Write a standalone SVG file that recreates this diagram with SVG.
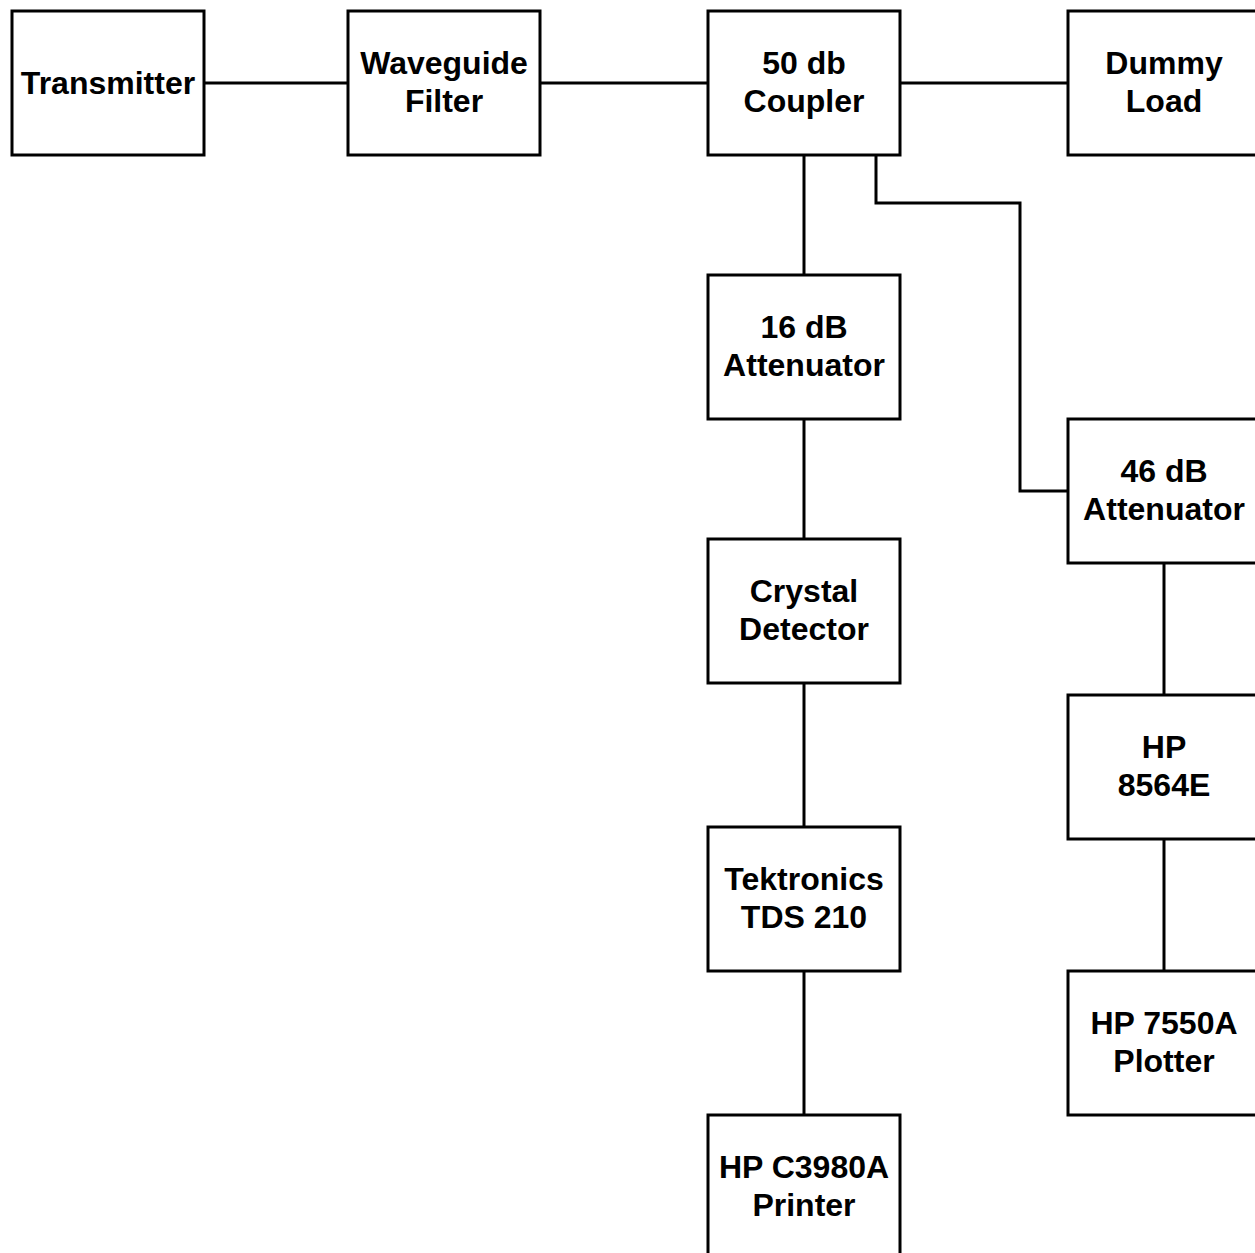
<svg xmlns="http://www.w3.org/2000/svg" width="1255" height="1253" viewBox="0 0 1255 1253">
<style>
.box{fill:#fff;stroke:#000;stroke-width:3}
.wire{fill:none;stroke:#000;stroke-width:3}
text{font-family:"Liberation Sans",Arial,sans-serif;font-weight:bold;font-size:32px;text-anchor:middle;fill:#000}
</style>
<rect width="1255" height="1253" fill="#fff"/>
<g id="connectors">
<line class="wire" x1="204" y1="83" x2="348" y2="83"/>
<line class="wire" x1="540" y1="83" x2="708" y2="83"/>
<line class="wire" x1="900" y1="83" x2="1068" y2="83"/>
<line class="wire" x1="804" y1="155" x2="804" y2="275"/>
<polyline class="wire" points="876,155 876,203 1020,203 1020,491 1068,491"/>
<line class="wire" x1="804" y1="419" x2="804" y2="539"/>
<line class="wire" x1="804" y1="683" x2="804" y2="827"/>
<line class="wire" x1="804" y1="971" x2="804" y2="1115"/>
<line class="wire" x1="1164" y1="563" x2="1164" y2="695"/>
<line class="wire" x1="1164" y1="839" x2="1164" y2="971"/>
</g>
<g id="transmitter"><rect class="box" x="12" y="11" width="192" height="144"/><text x="108" y="94">Transmitter</text></g>
<g id="waveguide-filter"><rect class="box" x="348" y="11" width="192" height="144"/><text x="444" y="74">Waveguide</text><text x="444" y="112">Filter</text></g>
<g id="coupler"><rect class="box" x="708" y="11" width="192" height="144"/><text x="804" y="74">50 db</text><text x="804" y="112">Coupler</text></g>
<g id="dummy-load"><rect class="box" x="1068" y="11" width="192" height="144"/><text x="1164" y="74">Dummy</text><text x="1164" y="112">Load</text></g>
<g id="att16"><rect class="box" x="708" y="275" width="192" height="144"/><text x="804" y="338">16 dB</text><text x="804" y="376">Attenuator</text></g>
<g id="crystal"><rect class="box" x="708" y="539" width="192" height="144"/><text x="804" y="602">Crystal</text><text x="804" y="640">Detector</text></g>
<g id="tektronics"><rect class="box" x="708" y="827" width="192" height="144"/><text x="804" y="890">Tektronics</text><text x="804" y="928">TDS 210</text></g>
<g id="printer"><rect class="box" x="708" y="1115" width="192" height="144"/><text x="804" y="1178">HP C3980A</text><text x="804" y="1216">Printer</text></g>
<g id="att46"><rect class="box" x="1068" y="419" width="192" height="144"/><text x="1164" y="482">46 dB</text><text x="1164" y="520">Attenuator</text></g>
<g id="hp8564e"><rect class="box" x="1068" y="695" width="192" height="144"/><text x="1164" y="758">HP</text><text x="1164" y="796">8564E</text></g>
<g id="plotter"><rect class="box" x="1068" y="971" width="192" height="144"/><text x="1164" y="1034">HP 7550A</text><text x="1164" y="1072">Plotter</text></g>
</svg>
